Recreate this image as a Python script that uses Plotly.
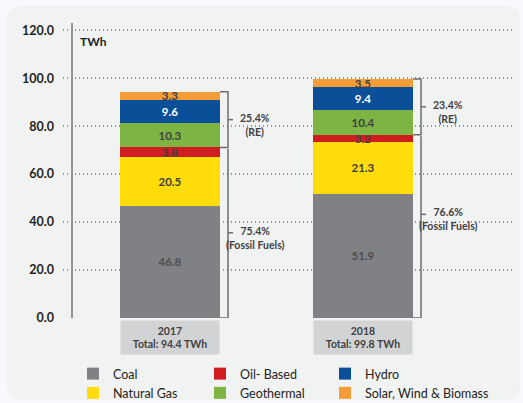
import plotly.graph_objects as go

# Daten (TWh)
years = ["2017", "2018"]
totals = [94.4, 99.8]
coal = [46.8, 51.9]
natural_gas = [20.5, 21.3]
oil_based = [3.8, 3.2]
geothermal = [10.3, 10.4]
hydro = [9.6, 9.4]
solar_wind_biomass = [3.3, 3.5]
re_share = [25.4, 23.4]
fossil_share = [75.4, 76.6]
y_ticks = [0, 20, 40, 60, 80, 100, 120]

# (Name, Werte, Farbe, Textfarbe, Legende)
series = [
    ("Coal", coal, "#808184", "#4d4d4f", "legend"),
    ("Natural Gas", natural_gas, "#ffdc0a", "#414042", "legend"),
    ("Oil- Based", oil_based, "#cf1d22", "#414042", "legend2"),
    ("Geothermal", geothermal, "#7db443", "#414042", "legend2"),
    ("Hydro", hydro, "#0b4f99", "#ffffff", "legend3"),
    ("Solar, Wind & Biomass", solar_wind_biomass, "#f39c38", "#414042", "legend3"),
]

# Pixel-Geometrie: Plotfläche 63..515 px (x), 23..318 px (y)
L, R, T, B = 63, 515, 23, 318
W, H = R - L, B - T
PX = 193.0  # px pro Kategorie
x_pos = list(range(len(years)))
bar_w = 100 / PX
x_lo = -(170 - L) / PX
x_hi = 1 + (R - 363) / PX
fossil_tick_shift = [0, 5]  # Markierung der Klammer (Fossil) etwas höher bei 2018


def px_x(p):
    return (p - L) / W


def px_y(p):
    return (B - p) / H


fig = go.Figure()
for name, vals, color, tcol, leg in series:
    fig.add_trace(go.Bar(
        x=x_pos, y=vals, name=name, width=bar_w,
        marker=dict(color=color, line=dict(width=0)),
        text=[f"{v:.1f}" for v in vals],
        textposition="inside", insidetextanchor="middle", textangle=0,
        textfont=dict(color=tcol, size=11.5, family="Lato", weight="bold"),
        legend=leg,
    ))

shapes = []
# Hintergrund-Panel (abgerundet)
x0, x1, y0, y1 = px_x(7), px_x(520), px_y(400), px_y(6)
rx, ry = 14 / W, 14 / H
shapes.append(dict(
    type="path", xref="paper", yref="paper", layer="below",
    path=(f"M{x0+rx},{y1} L{x1-rx},{y1} Q{x1},{y1} {x1},{y1-ry} "
          f"L{x1},{y0+ry} Q{x1},{y0} {x1-rx},{y0} L{x0+rx},{y0} "
          f"Q{x0},{y0} {x0},{y0+ry} L{x0},{y1-ry} Q{x0},{y1} {x0+rx},{y1} Z"),
    fillcolor="#f1f2f2", line=dict(width=0),
))
# y-Achsenlinie
shapes.append(dict(type="line", xref="x", yref="paper",
                   x0=x_lo + 9 / PX, x1=x_lo + 9 / PX, y0=0, y1=1,
                   line=dict(color="#939598", width=2)))

annotations = []
for i in x_pos:
    fossil_top = coal[i] + natural_gas[i] + oil_based[i]
    top = fossil_top + geothermal[i] + hydro[i] + solar_wind_biomass[i]
    edge = i + bar_w / 2
    bx = edge + 8 / PX
    tk = bx + 5 / PX
    lc = "#6d6e71"
    shapes.append(dict(type="path", xref="x", yref="y",
                       path=f"M{edge},{top} L{bx},{top} L{bx},{fossil_top} L{edge},{fossil_top}",
                       line=dict(color=lc, width=1.5)))
    shapes.append(dict(type="path", xref="x", yref="y",
                       path=f"M{bx},{fossil_top - 0.6} L{bx},0 L{edge},0",
                       line=dict(color=lc, width=1.5)))
    re_mid = (top + fossil_top) / 2
    fo_mid = fossil_top / 2 + fossil_tick_shift[i]
    for mid, label in [(re_mid, f"{re_share[i]}%<br>(RE)"),
                       (fo_mid, f"{fossil_share[i]}%<br>(Fossil Fuels)")]:
        shapes.append(dict(type="line", xref="x", yref="y", x0=bx, x1=tk, y0=mid, y1=mid,
                           line=dict(color=lc, width=1.5)))
        annotations.append(dict(
            x=bx + 27 / PX, y=mid, xref="x", yref="y", text=f"<b>{label}</b>",
            showarrow=False, xanchor="center", yanchor="top", yshift=10,
            font=dict(size=10.5, color="#414042", family="Lato"),
        ))
    # Kategorie-Box
    annotations.append(dict(
        x=i, y=px_y(337.5), xref="x", yref="paper",
        text=f"<b>{years[i]}</b><br><b>Total: {totals[i]} TWh</b>",
        showarrow=False, xanchor="center", yanchor="middle",
        bgcolor="#d1d3d4", width=96, height=31,
        font=dict(size=10.5, color="#414042", family="Lato"),
    ))

annotations.append(dict(
    x=px_x(78), y=px_y(41), xref="paper", yref="paper", text="<b>TWh</b>",
    showarrow=False, xanchor="left", yanchor="middle",
    font=dict(size=12, color="#231f20", family="Lato"),
))

legend_style = dict(
    orientation="v", xanchor="left", y=px_y(359), yanchor="top",
    bgcolor="rgba(0,0,0,0)", tracegroupgap=0, traceorder="normal",
    font=dict(size=12.5, color="#231f20", family="Lato"),
)

fig.update_layout(
    width=523, height=403,
    margin=dict(l=L, r=523 - R, t=T, b=403 - B, autoexpand=False),
    barmode="stack",
    paper_bgcolor="#f7f9fc",
    plot_bgcolor="rgba(0,0,0,0)",
    font=dict(family="Lato", color="#231f20"),
    shapes=shapes,
    annotations=annotations,
    showlegend=True,
    legend=dict(x=px_x(73), **legend_style),
    legend2=dict(x=px_x(200), **legend_style),
    legend3=dict(x=px_x(325), **legend_style),
    uniformtext=dict(minsize=11, mode="show"),
)
fig.update_xaxes(range=[x_lo, x_hi], visible=False)
fig.update_yaxes(
    range=[0, 123], tickvals=y_ticks, tickformat=".1f",
    showgrid=True, gridcolor="#939598", griddash="1px,3px", gridwidth=1.5,
    zeroline=False, ticks="", ticklabelstandoff=8,
    tickfont=dict(size=12.5, color="#231f20", family="Lato", weight="bold"),
)

# Seitenrand entfernen, damit die Grafik bei (0,0) beginnt
fig.write_html("out.html", config={"displayModeBar": False},
               post_script="document.body.style.margin='0';")
